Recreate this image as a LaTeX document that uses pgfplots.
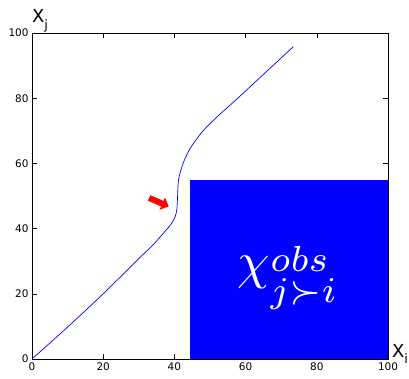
\documentclass[border=0pt]{standalone}
\usepackage{pgfplots}
\pgfplotsset{compat=1.18}
\usepackage{fontspec}
\usetikzlibrary{calc,arrows.meta}
\newfontfamily\dejavu{DejaVu Sans}

\begin{document}
\begin{tikzpicture}[x=1bp,y=1bp]
\begin{axis}[
    scale only axis,
    width=356bp, height=326bp,
    xmin=0, xmax=100, ymin=0, ymax=100,
    xtick={0,20,...,100}, ytick={0,20,...,100},
    tick align=inside,
    major tick length=5bp,
    tick style={black, line width=0.6pt},
    axis line style={black, line width=0.8pt},
    ticklabel style={font=\dejavu\fontsize{10.5}{12}\selectfont},
    /pgf/number format/assume math mode=true,
    xtick pos=both, ytick pos=both,
    xticklabel pos=lower, yticklabel pos=left,
    clip=false,
]
% observed region
\addplot[fill=blue, draw=none] coordinates {
    (44.5,0) (44.5,55) (100,55) (100,0)
} -- cycle;
% curve
\addplot[blue, line width=0.7pt, smooth, tension=0.45] coordinates {
    (0,0) (10,9.8) (20,20) (30,30.8) (34,35) (37,38.7) (39,41.3)
    (40.2,43.6) (40.7,46) (40.9,50) (41.1,54.5) (41.7,57.5) (42.8,61)
    (44.6,64.9) (47.9,69.8) (52,74.3) (57.2,79.4) (65,87.3) (73.4,95.8)
};
\draw[red, line width=6bp, -{Triangle[length=7bp, width=13bp]}]
    (axis cs:32.9,49.4) -- (axis cs:38.4,46.8);
\node[white, anchor=base, inner sep=0pt, scale=5.2] at (axis cs:72,24.7)
    {$\chi^{\raisebox{-2.2pt}[0pt][0pt]{$\scriptstyle obs$}}_{\raisebox{-2.1pt}[0pt][0pt]{$\scriptstyle j\succ i$}}$};
\coordinate (bl) at (rel axis cs:0,0);
\coordinate (tr) at (rel axis cs:1,1);
\end{axis}
\node[anchor=base west, inner sep=0pt, font=\dejavu\fontsize{18}{18}\selectfont]
    at ($(bl|-tr)+(0,10bp)$) {X\raisebox{-0.35em}{\fontsize{13}{13}\selectfont j}};
\node[anchor=base west, inner sep=0pt, font=\dejavu\fontsize{18}{18}\selectfont]
    at ($(tr|-bl)+(4bp,2bp)$) {X\raisebox{-0.35em}{\fontsize{13}{13}\selectfont i}};
\pgfresetboundingbox
\path ($(bl)+(-32bp,-20bp)$) rectangle ($(tr)+(21bp,33bp)$);
\end{tikzpicture}
\end{document}
